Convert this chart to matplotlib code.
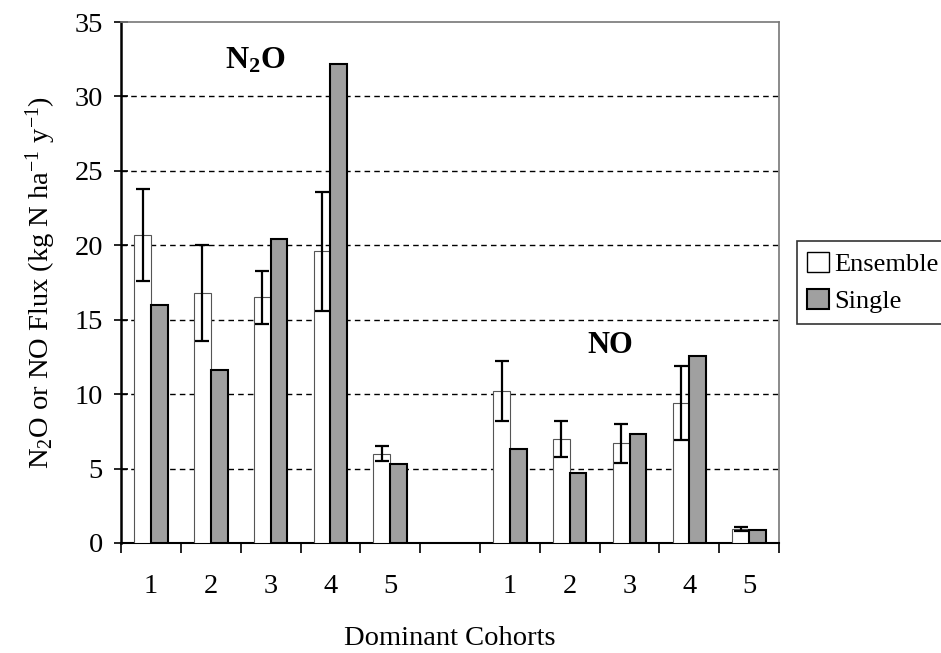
import matplotlib
matplotlib.use("Agg")
import matplotlib.pyplot as plt
import matplotlib.patches as mpatches
import numpy as np

plt.rcParams['font.family'] = ['Liberation Serif', 'DejaVu Serif']
plt.rcParams['mathtext.fontset'] = 'custom'
plt.rcParams['mathtext.rm'] = 'Liberation Serif'
plt.rcParams['mathtext.it'] = 'Liberation Serif:italic'
plt.rcParams['mathtext.bf'] = 'Liberation Serif:bold'

# dominant cohorts 1..5 for N2O, then 1..5 for NO
cohorts = ['1', '2', '3', '4', '5']
n2o_ensemble = [20.7, 16.8, 16.5, 19.6, 6.0]
n2o_ensemble_err = [3.1, 3.2, 1.8, 4.0, 0.5]
n2o_single = [16.0, 11.6, 20.4, 32.2, 5.3]
no_ensemble = [10.2, 7.0, 6.7, 9.4, 0.95]
no_ensemble_err = [2.0, 1.2, 1.3, 2.5, 0.12]
no_single = [6.3, 4.7, 7.35, 12.55, 0.9]

# one empty slot between the two groups
ensemble = n2o_ensemble + [np.nan] + no_ensemble
ensemble_err = n2o_ensemble_err + [np.nan] + no_ensemble_err
single = n2o_single + [np.nan] + no_single
labels = cohorts + [''] + cohorts
x = np.arange(len(labels))
w = 0.28
fs = 20.5

fig = plt.figure(figsize=(9.41, 6.53), dpi=100)
ax = fig.add_axes([0.1286, 0.1685, 0.6994, 0.7978])

ax.bar(x - w / 2, ensemble, w, color='white', edgecolor='#555555', linewidth=0.8,
       label='Ensemble', zorder=3)
ax.errorbar(x - w / 2, ensemble, yerr=ensemble_err, fmt='none', ecolor='black',
            elinewidth=1.6, capsize=5, capthick=1.6, zorder=4)
ax.bar(x + w / 2, single, w, color='#a0a0a0', edgecolor='black', linewidth=1.5,
       label='Single', zorder=3)

ax.set_xlim(-0.5, len(labels) - 0.5)
ax.set_ylim(0, 35)
ax.set_yticks(np.arange(0, 36, 5))
ax.set_xticks(np.arange(-0.5, len(labels), 1.0))
ax.set_xticklabels([])
ax.set_xticks(x, minor=True)
ax.set_xticklabels(labels, minor=True)
ax.tick_params(axis='x', which='major', length=7, width=1.2, direction='out')
ax.tick_params(axis='x', which='minor', length=0, pad=22, labelsize=fs)
ax.tick_params(axis='y', length=10, width=1.2, direction='inout', labelsize=fs, pad=8)

for y in range(5, 35, 5):
    ax.axhline(y, color='black', linestyle=(0, (4, 3)), linewidth=1.0, zorder=1)

ax.spines['left'].set_linewidth(1.8)
ax.spines['bottom'].set_linewidth(1.5)
ax.spines['top'].set_color('#777777')
ax.spines['right'].set_color('#777777')
ax.spines['top'].set_linewidth(1.2)
ax.spines['right'].set_linewidth(1.2)

ax.text(1.75, 32.4, r'$\mathbf{N_2O}$', fontsize=23, ha='center', va='center')
ax.text(7.68, 13.3, 'NO', fontsize=22, fontweight='bold', ha='center', va='center')

ax.set_ylabel(r'N$_2$O or NO Flux (kg N ha$^{-1}$ y$^{-1}$)', fontsize=fs, labelpad=12)
ax.set_xlabel('Dominant Cohorts', fontsize=fs, labelpad=20)

handles = [mpatches.Patch(facecolor='white', edgecolor='black', linewidth=1.0, label='Ensemble'),
           mpatches.Patch(facecolor='#a0a0a0', edgecolor='black', linewidth=1.5, label='Single')]
leg = ax.legend(handles=handles, loc='center left', bbox_to_anchor=(1.027, 0.5),
                fontsize=19, frameon=True, fancybox=False, handlelength=0.8,
                handleheight=0.8, handletextpad=0.2, borderpad=0.4, labelspacing=0.5,
                borderaxespad=0)
leg.get_frame().set_edgecolor('black')
leg.get_frame().set_linewidth(1.2)

fig.savefig('out.png', dpi=100)
